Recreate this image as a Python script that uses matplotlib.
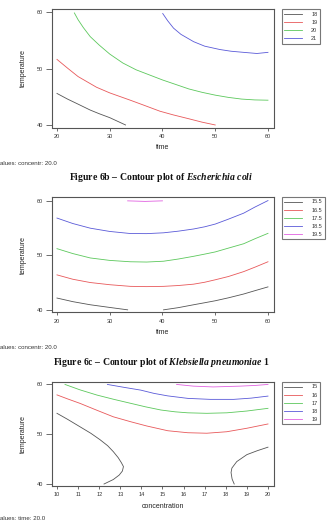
import matplotlib
matplotlib.use("Agg")
import matplotlib.pyplot as plt

plt.rcParams['font.family'] = ['Liberation Sans', 'DejaVu Sans']
# italic species names in the captions: bold italic serif
plt.rcParams['mathtext.fontset'] = 'custom'
plt.rcParams['mathtext.it'] = 'Liberation Serif:italic:bold'
plt.rcParams['mathtext.rm'] = 'Liberation Serif:bold'

# contour colours, in level order (R style palette as rendered)
COLORS = ['#555555', '#e8585a', '#5cc85c', '#5a5ad8', '#e060e0']
FRAME = '#555555'

# ---- Figure 6a: time vs temperature (concentr = 20) ----
p1_levels = ['18', '19', '20', '21']
p1_time = [
    [20, 22, 24, 26.3, 28, 30, 33.0],
    [20, 22, 24, 27.5, 30, 33.9, 36.5, 39.5, 42, 45, 47.5, 50],
    [23.3, 24, 25, 26.3, 28, 30, 32.5, 35, 37.5, 40, 42.5, 45, 47.5, 50, 52.5, 55, 57.5, 60],
    [40.05, 41, 42.1, 43.5, 45.9, 48, 50.9, 53, 55.4, 57.9, 60],
]
p1_temp = [
    [45.6, 44.6, 43.7, 42.65, 42.0, 41.3, 40.0],
    [51.65, 50.1, 48.6, 46.7, 45.7, 44.4, 43.5, 42.45, 41.8, 41.1, 40.5, 40.0],
    [59.9, 58.7, 57.3, 55.7, 54.2, 52.6, 51.0, 49.8, 48.9, 48.0, 47.2, 46.4, 45.8, 45.3, 44.9, 44.6, 44.45, 44.4],
    [59.8, 58.5, 57.2, 56.1, 54.8, 54.0, 53.4, 53.1, 52.9, 52.7, 52.9],
]

# ---- Figure 6b: Escherichia coli ----
p2_levels = ['15.5', '16.5', '17.5', '18.5', '19.5']
p2_grid = [20, 23, 26.3, 30, 33.9, 37, 40.2, 43, 45.9, 48, 50, 52.5, 55.4, 57.5, 60]
p2_time = [
    [[20, 23, 26.3, 30, 33.4], [40.2, 43, 45.9, 48, 50, 52.5, 55.4, 57.5, 60]],
    [p2_grid],
    [p2_grid],
    [p2_grid],
    [[33.4, 36.7, 40.0]],
]
p2_temp = [
    [[42.16, 41.5, 40.93, 40.44, 40.0], [40.0, 40.4, 40.93, 41.3, 41.66, 42.2, 42.9, 43.5, 44.2]],
    [[46.4, 45.6, 45.0, 44.6, 44.3, 44.25, 44.3, 44.45, 44.7, 45.05, 45.5, 46.1, 47.0, 47.8, 48.8]],
    [[51.2, 50.3, 49.5, 49.05, 48.8, 48.75, 48.9, 49.3, 49.8, 50.2, 50.6, 51.3, 52.1, 53.0, 54.0]],
    [[56.8, 55.8, 54.95, 54.35, 53.97, 53.95, 54.1, 54.4, 54.8, 55.2, 55.7, 56.6, 57.7, 58.8, 60.0]],
    [[59.95, 59.85, 59.95]],
]

# ---- Figure 6c: Klebsiella pneumoniae 1 (time = 20) ----
p3_levels = ['15', '16', '17', '18', '19']
p3_conc = [
    [[10, 10.5, 11.09, 11.6, 12.04, 12.4, 12.67, 12.9, 13.05, 13.15, 13.1, 12.95, 12.67, 12.23],
     [18.4, 18.3, 18.25, 18.29, 18.52, 19.0, 19.5, 20]],
    [[10, 10.5, 11.09, 11.9, 12.67, 13.5, 14.25, 15.25, 16.2, 17.1, 18.05, 19.0, 20]],
    [[10.38, 11.1, 11.9, 12.7, 13.5, 14.2, 14.93, 15.6, 16.2, 17.1, 18.05, 19.0, 20]],
    [[12.39, 13.2, 13.97, 14.6, 15.25, 16.2, 17.27, 18.37, 19.2, 20]],
    [[15.67, 16.46, 17.4, 18.68, 19.4, 20]],
]
p3_temp = [
    [[54.2, 53.0, 51.5, 50.2, 48.9, 47.7, 46.5, 45.3, 44.3, 43.5, 42.6, 41.8, 40.9, 40.0],
     [40.0, 41.0, 42.3, 43.2, 44.5, 45.9, 46.7, 47.4]],
    [[57.9, 57.1, 56.2, 54.8, 53.5, 52.5, 51.66, 50.7, 50.3, 50.2, 50.5, 51.2, 52.06]],
    [[60, 58.9, 57.86, 57.0, 56.2, 55.5, 54.86, 54.5, 54.3, 54.2, 54.3, 54.66, 55.2]],
    [[60, 59.4, 58.86, 58.2, 57.7, 57.2, 57.0, 57.0, 57.25, 57.66]],
    [[60, 59.66, 59.5, 59.66, 59.8, 60]],
]

W, H = 332, 522
fig = plt.figure(figsize=(W / 100, H / 100), dpi=100)


def px_axes(left, top, right, bottom):
    return fig.add_axes([left / W, 1 - bottom / H, (right - left) / W, (bottom - top) / H])


def style(ax, xlim, ylim, xticks, xlabel, legend_xy):
    ax.set_xlim(*xlim)
    ax.set_ylim(*ylim)
    ax.set_xticks(xticks)
    ax.set_yticks([40, 50, 60])
    for s in ax.spines.values():
        s.set_color(FRAME)
        s.set_linewidth(0.8)
    ax.tick_params(axis='both', colors=FRAME, labelcolor='#333333', labelsize=4, width=0.6)
    ax.tick_params(axis='x', length=2.5, pad=2)
    ax.tick_params(axis='y', length=4.5, pad=1.5)
    ax.set_xlabel(xlabel, fontsize=5, color='#222222', labelpad=4)
    ax.set_ylabel('temperature', fontsize=5, color='#222222', labelpad=7)
    lx, ly = legend_xy
    leg = ax.legend(loc='upper left', bbox_to_anchor=(lx / W, 1 - ly / H),
                    bbox_transform=fig.transFigure, fontsize=4, frameon=True,
                    fancybox=False, borderaxespad=0, handlelength=3.2,
                    handletextpad=1.6, labelspacing=0.55, borderpad=0.5)
    leg.get_frame().set_edgecolor(FRAME)
    leg.get_frame().set_linewidth(0.8)
    for t in leg.get_texts():
        t.set_color('#333333')


# panel a
ax1 = px_axes(51.7, 9.3, 274.3, 127.5)
for i, lev in enumerate(p1_levels):
    ax1.plot(p1_time[i], p1_temp[i], color=COLORS[i], lw=0.6, label=lev)
style(ax1, (19.0, 61.2), (39.55, 60.55), [20, 30, 40, 50, 60], 'time', (281.7, 9.3))

# panel b
ax2 = px_axes(51.7, 197.3, 274.3, 312.3)
for i, lev in enumerate(p2_levels):
    for j, (xs, ys) in enumerate(zip(p2_time[i], p2_temp[i])):
        ax2.plot(xs, ys, color=COLORS[i], lw=0.6, label=lev if j == 0 else None)
style(ax2, (19.0, 61.2), (39.55, 60.6), [20, 30, 40, 50, 60], 'time', (281.7, 196.7))

# panel c
ax3 = px_axes(51.7, 381.7, 274.3, 486)
for i, lev in enumerate(p3_levels):
    for j, (xs, ys) in enumerate(zip(p3_conc[i], p3_temp[i])):
        ax3.plot(xs, ys, color=COLORS[i], lw=0.6, label=lev if j == 0 else None)
style(ax3, (9.75, 20.3), (39.6, 60.55), list(range(10, 21)), 'concentration', (281.7, 381.7))

# footers and captions
cap = dict(fontsize=7.0, fontweight='bold', family=['Liberation Serif', 'DejaVu Serif'],
           ha='center', va='center', color='#111111')
foot = dict(fontsize=4.4, ha='left', va='center', color='#333333')
fig.text(0, 1 - 163.3 / H, 'alues: concentr: 20.0', **foot)
fig.text(161 / W, 1 - 177.3 / H,
         r'Figure 6b – Contour plot of $\mathit{Escherichia\ coli}$', **cap)
fig.text(0, 1 - 347.3 / H, 'alues: concentr: 20.0', **foot)
fig.text(161 / W, 1 - 362.7 / H,
         r'Figure 6c – Contour plot of $\mathit{Klebsiella\ pneumoniae}$ 1', **cap)
fig.text(0, 1 - 519 / H, 'alues: time: 20.0', **foot)

fig.savefig('out.png', dpi=100)
